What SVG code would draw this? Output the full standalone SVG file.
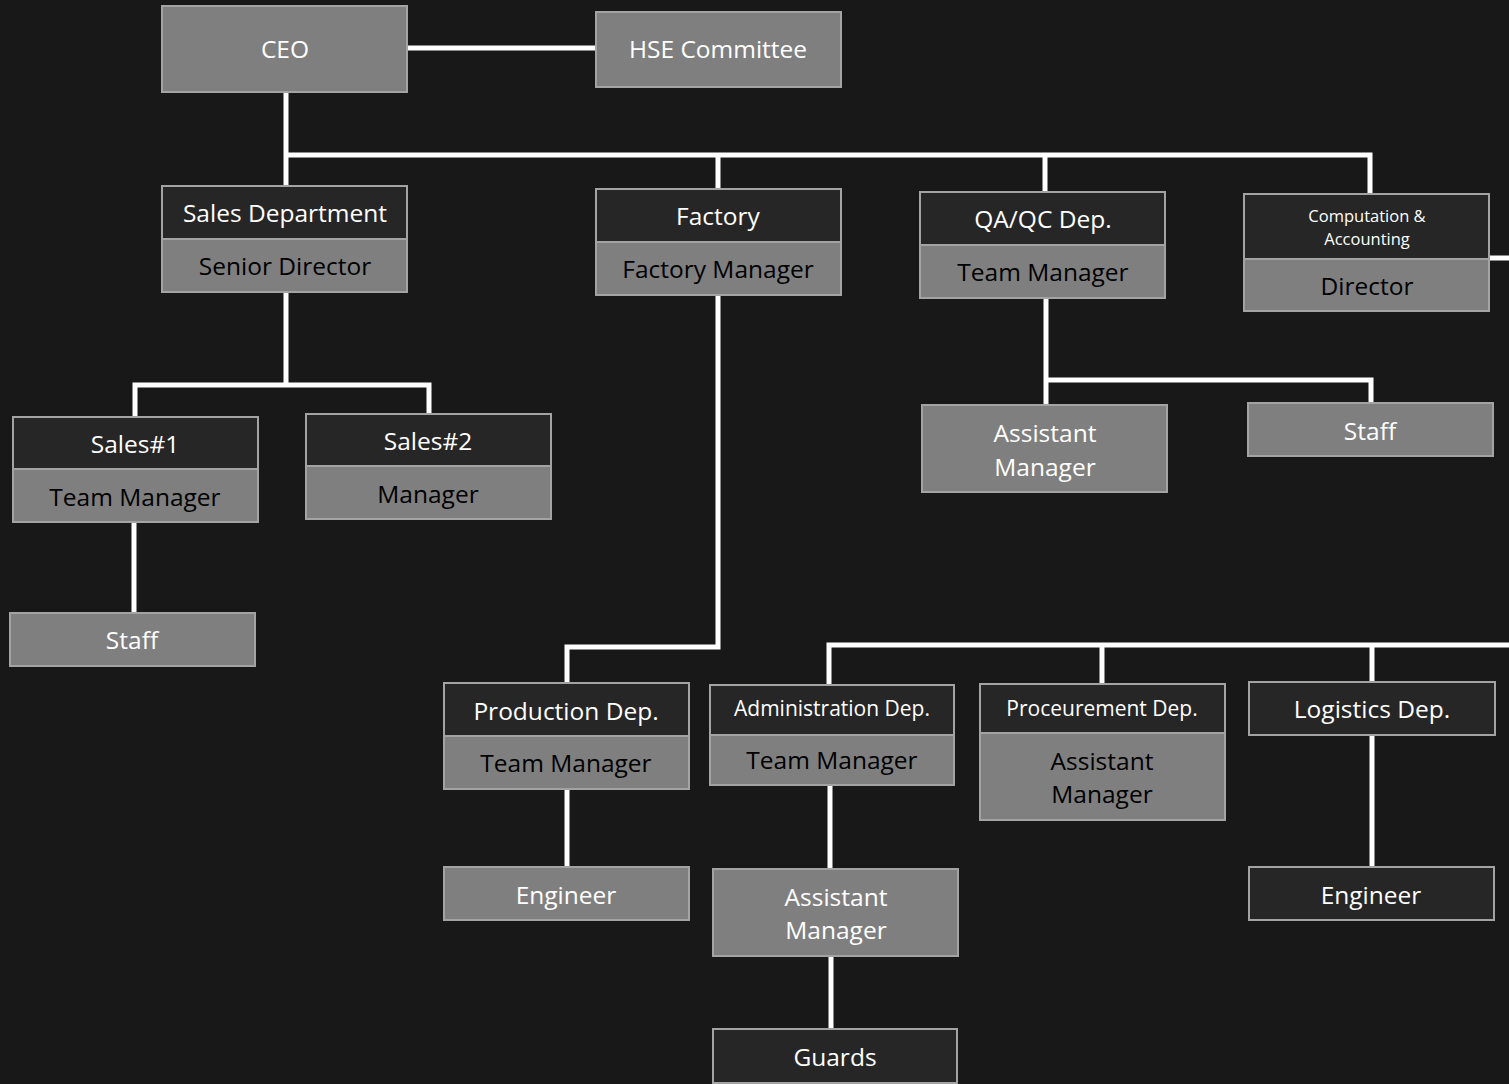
<svg xmlns="http://www.w3.org/2000/svg" width="1509" height="1084" viewBox="0 0 1509 1084">
<style>
.bg{fill:#181818}
.g{fill:#7f7f7f;stroke:#a3a3a3;stroke-width:2}
.d{fill:#262626;stroke:#a3a3a3;stroke-width:2}
text{font-family:"Open Sans","Noto Sans",sans-serif;font-size:24.5px;text-anchor:middle}
.w{fill:#ffffff}
.k{fill:#000000}
.s{font-size:21px}
.xs{font-size:16.5px}
.c{fill:none;stroke:#ffffff;stroke-width:5;stroke-linejoin:miter;stroke-linecap:butt}
</style>
<rect class="bg" x="0" y="0" width="1509" height="1084"/>
<g id="connectors">
<polyline class="c" points="407,48 596,48"/>
<polyline class="c" points="286,92 286,186"/>
<polyline class="c" points="286,155 1370,155 1370,195"/>
<polyline class="c" points="718,155 718,189"/>
<polyline class="c" points="1045,155 1045,192"/>
<polyline class="c" points="1489,258 1509,258"/>
<polyline class="c" points="286,292 286,385"/>
<polyline class="c" points="135,417 135,385 429,385 429,414"/>
<polyline class="c" points="134,522 134,613"/>
<polyline class="c" points="718,295 718,647 567,647 567,683"/>
<polyline class="c" points="567,789 567,867"/>
<polyline class="c" points="1046,298 1046,405"/>
<polyline class="c" points="1046,380 1371,380 1371,403"/>
<polyline class="c" points="829,685 829,645 1509,645"/>
<polyline class="c" points="1102,645 1102,684"/>
<polyline class="c" points="1372,645 1372,682"/>
<polyline class="c" points="830,785 830,869"/>
<polyline class="c" points="831,956 831,1029"/>
<polyline class="c" points="1372,735 1372,867"/>
</g>
<g id="ceo"><rect class="g" x="162" y="6" width="245" height="86"/><text class="w" x="285" y="58">CEO</text></g>
<g id="hse"><rect class="g" x="596" y="12" width="245" height="75"/><text class="w" x="718" y="58">HSE Committee</text></g>
<g id="sales-dept"><rect class="d" x="162" y="186" width="245" height="53"/><rect class="g" x="162" y="239" width="245" height="53"/><text class="w" x="285" y="222">Sales Department</text><text class="k" x="285" y="275">Senior Director</text></g>
<g id="factory"><rect class="d" x="596" y="189" width="245" height="53"/><rect class="g" x="596" y="242" width="245" height="53"/><text class="w" x="718" y="225">Factory</text><text class="k" x="718" y="278">Factory Manager</text></g>
<g id="qaqc"><rect class="d" x="920" y="192" width="245" height="53"/><rect class="g" x="920" y="245" width="245" height="53"/><text class="w" x="1043" y="228">QA/QC Dep.</text><text class="k" x="1043" y="281">Team Manager</text></g>
<g id="accounting"><rect class="d" x="1244" y="194" width="245" height="65"/><rect class="g" x="1244" y="259" width="245" height="52"/><text class="w xs" x="1367" y="222">Computation &amp;</text><text class="w xs" x="1367" y="245">Accounting</text><text class="k" x="1367" y="295">Director</text></g>
<g id="sales1"><rect class="d" x="13" y="417" width="245" height="52"/><rect class="g" x="13" y="469" width="245" height="53"/><text class="w" x="135" y="453">Sales#1</text><text class="k" x="135" y="506">Team Manager</text></g>
<g id="sales2"><rect class="d" x="306" y="414" width="245" height="52"/><rect class="g" x="306" y="466" width="245" height="53"/><text class="w" x="428" y="450">Sales#2</text><text class="k" x="428" y="503">Manager</text></g>
<g id="sales-staff"><rect class="g" x="10" y="613" width="245" height="53"/><text class="w" x="132" y="649">Staff</text></g>
<g id="qa-assistant"><rect class="g" x="922" y="405" width="245" height="87"/><text class="w" x="1045" y="442">Assistant</text><text class="w" x="1045" y="476">Manager</text></g>
<g id="qa-staff"><rect class="g" x="1248" y="403" width="245" height="53"/><text class="w" x="1370" y="440">Staff</text></g>
<g id="production"><rect class="d" x="444" y="683" width="245" height="53"/><rect class="g" x="444" y="736" width="245" height="53"/><text class="w" x="566" y="720">Production Dep.</text><text class="k" x="566" y="772">Team Manager</text></g>
<g id="prod-engineer"><rect class="g" x="444" y="867" width="245" height="53"/><text class="w" x="566" y="904">Engineer</text></g>
<g id="administration"><rect class="d" x="710" y="685" width="244" height="50"/><rect class="g" x="710" y="735" width="244" height="50"/><text class="w s" x="832" y="716">Administration Dep.</text><text class="k" x="832" y="769">Team Manager</text></g>
<g id="admin-assistant"><rect class="g" x="713" y="869" width="245" height="87"/><text class="w" x="836" y="906">Assistant</text><text class="w" x="836" y="939">Manager</text></g>
<g id="guards"><rect class="d" x="713" y="1029" width="244" height="54"/><text class="w" x="835" y="1066">Guards</text></g>
<g id="procurement"><rect class="d" x="980" y="684" width="245" height="49"/><rect class="g" x="980" y="733" width="245" height="87"/><text class="w s" x="1102" y="716">Proceurement Dep.</text><text class="k" x="1102" y="770">Assistant</text><text class="k" x="1102" y="803">Manager</text></g>
<g id="logistics"><rect class="d" x="1249" y="682" width="246" height="53"/><text class="w" x="1372" y="718">Logistics Dep.</text></g>
<g id="log-engineer"><rect class="d" x="1249" y="867" width="245" height="53"/><text class="w" x="1371" y="904">Engineer</text></g>
</svg>
